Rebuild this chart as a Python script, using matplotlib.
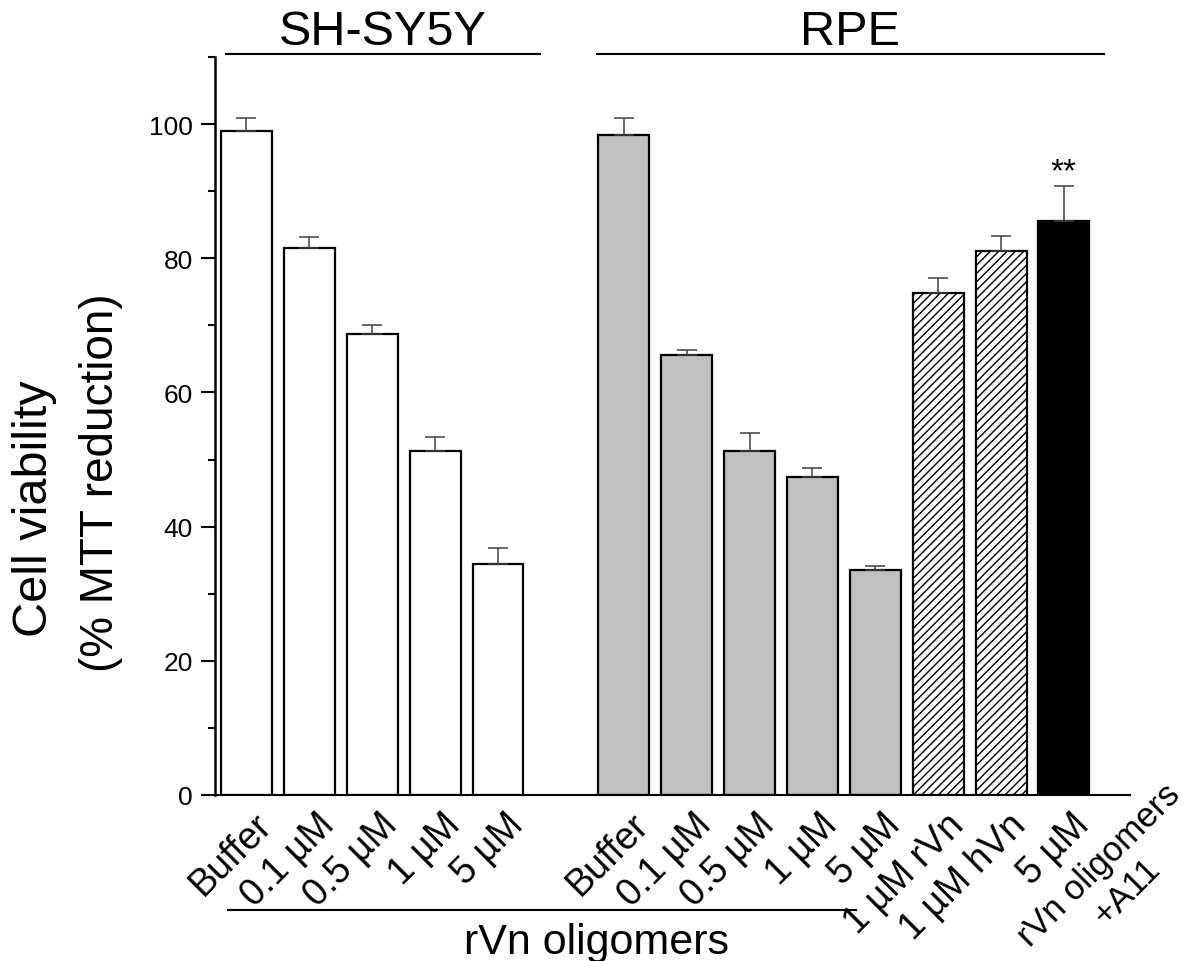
import numpy as np
import matplotlib
matplotlib.use("Agg")
import matplotlib.pyplot as plt
from matplotlib.ticker import MultipleLocator
from matplotlib.transforms import ScaledTranslation

plt.rcParams['font.family'] = ['Liberation Sans', 'DejaVu Sans']
plt.rcParams['hatch.linewidth'] = 1.0

# SH-SY5Y cells
sh_labels = ['Buffer', '0.1 \u00b5M', '0.5 \u00b5M', '1 \u00b5M', '5 \u00b5M']
sh_means = [99.0, 81.6, 68.7, 51.3, 34.5]
sh_err = [1.9, 1.6, 1.4, 2.1, 2.3]

# RPE cells
rpe_labels = ['Buffer', '0.1 \u00b5M', '0.5 \u00b5M', '1 \u00b5M', '5 \u00b5M',
              '1 \u00b5M rVn', '1 \u00b5M hVn', '5 \u00b5M']
rpe_means = [98.3, 65.6, 51.2, 47.4, 33.5, 74.8, 81.1, 85.6]
rpe_err = [2.6, 0.8, 2.8, 1.3, 0.7, 2.2, 2.2, 5.2]
rpe_colors = ['#c0c0c0'] * 5 + ['white', 'white', 'black']
rpe_hatch = [None] * 5 + ['////', '////', None]

sh_x = np.arange(len(sh_means))
rpe_x = np.arange(len(rpe_means)) + len(sh_means) + 1

fig = plt.figure(figsize=(11.85, 9.62), dpi=100)
ax = fig.add_axes([215 / 1185, 166 / 962, 915 / 1185, 738 / 962])

w = 0.81
ax.bar(sh_x, sh_means, width=w, color='white', edgecolor='black', linewidth=1.6, zorder=2)
for xi, m, c, h in zip(rpe_x, rpe_means, rpe_colors, rpe_hatch):
    ax.bar(xi, m, width=w, color=c, edgecolor='black', linewidth=1.6, hatch=h, zorder=2)

all_x = np.concatenate([sh_x, rpe_x])
all_m = np.array(sh_means + rpe_means)
all_e = np.array(sh_err + rpe_err)
ax.errorbar(all_x, all_m, yerr=[np.zeros_like(all_e), all_e], fmt='none',
            ecolor='#404040', elinewidth=1.1, capsize=7.5, capthick=1.1, zorder=3)

# significance mark
ax.text(rpe_x[-1], all_m[-1] + all_e[-1] + 0.9, '**', ha='center', va='baseline', fontsize=24)

ax.set_xlim(-0.5, 14.05)
ax.set_ylim(0, 110)
ax.spines['top'].set_visible(False)
ax.spines['right'].set_visible(False)
ax.spines['left'].set_linewidth(1.8)
ax.spines['bottom'].set_linewidth(1.5)
ax.yaxis.set_major_locator(MultipleLocator(20))
ax.yaxis.set_minor_locator(MultipleLocator(10))
ax.tick_params(axis='y', which='major', length=10, width=1.5, labelsize=19, pad=6)
ax.tick_params(axis='y', which='minor', length=5, width=1.5)
ax.tick_params(axis='x', length=0, pad=8)

ax.set_xticks(all_x)
ax.set_xticklabels(sh_labels + rpe_labels, fontsize=27, rotation=45,
                   ha='right', va='top', rotation_mode='anchor')
offset = ScaledTranslation(7 / 100, 0, fig.dpi_scale_trans)
for lab in ax.get_xticklabels():
    lab.set_transform(lab.get_transform() + offset)

# last label continuation
ax.text(13.78, -12.3, 'rVn oligomers\n+A11', rotation=45, ha='center', va='center',
        rotation_mode='anchor', multialignment='center', fontsize=25, clip_on=False)

# group headers
ax.plot([-0.32, 4.67], [110.4, 110.4], color='black', lw=1.5, clip_on=False)
ax.plot([5.57, 13.63], [110.4, 110.4], color='black', lw=1.5, clip_on=False)
ax.text(2.17, 111.9, 'SH-SY5Y', ha='center', va='baseline', fontsize=35)
ax.text(9.6, 111.9, 'RPE', ha='center', va='baseline', fontsize=35)

# bottom bracket
ax.plot([-0.29, 9.7], [-17.1, -17.1], color='black', lw=1.5, clip_on=False)
ax.text(5.57, -23.5, 'rVn oligomers', ha='center', va='baseline', fontsize=31)

fig.text(35 / 1185, 1 - 509 / 962, 'Cell viability', rotation=90, ha='center', va='center', fontsize=35)
fig.text(101 / 1185, 1 - 483 / 962, '(% MTT reduction)', rotation=90, ha='center', va='center', fontsize=33)

fig.savefig('out.png', dpi=100)
